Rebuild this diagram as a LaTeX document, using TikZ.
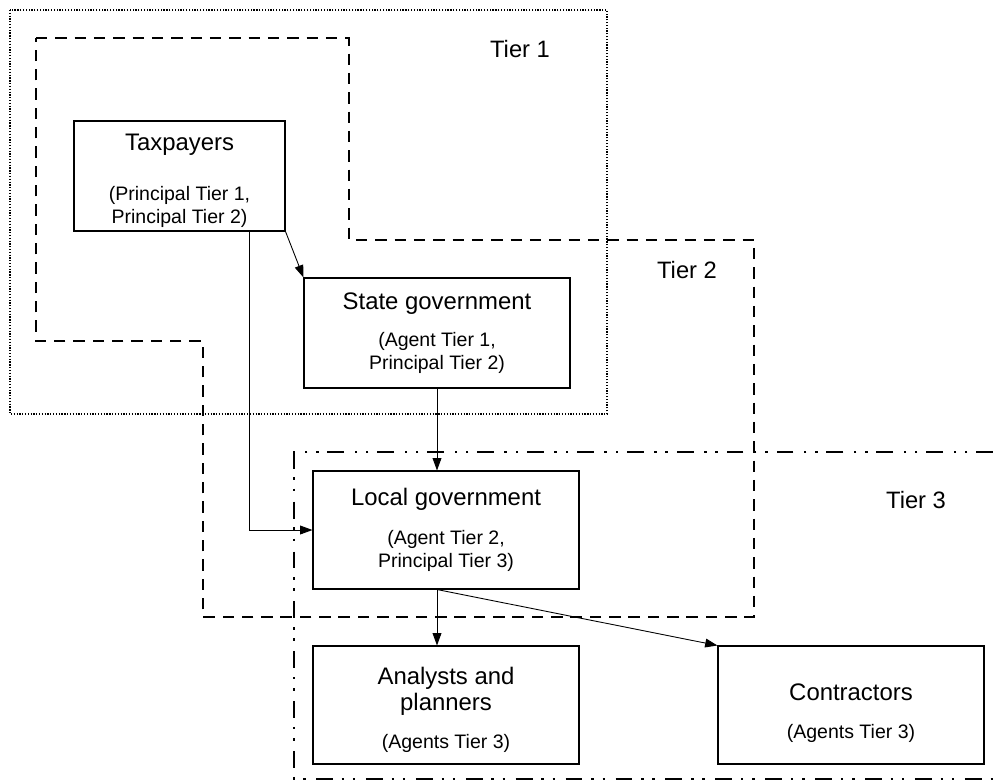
\documentclass[tikz,border=0pt]{standalone}
\usepackage{fontspec}
\setmainfont{Liberation Sans}
\usetikzlibrary{arrows.meta}
\newcommand{\titlefont}{\fontsize{13.6}{16}\selectfont}
\newcommand{\subfont}{\fontsize{11.1}{13}\selectfont}

\begin{document}
\begin{tikzpicture}[x=0.2mm,y=-0.2mm,
  party/.style={draw,line width=0.6pt,align=center,inner sep=0pt,font=\subfont},
  tierlabel/.style={font=\fontsize{13.5}{16}\selectfont},
  link/.style={-{Triangle[length=7pt,width=5pt]},line width=0.5pt}]
\useasboundingbox (0,0) rectangle (993,783);
\draw[line width=0.7pt,dash pattern=on 0.7pt off 0.9pt] (10,10) rectangle (607,414);
\draw[line width=1.1pt,dash pattern=on 6.5pt off 4.5pt] (36,38) -- (349,38) -- (349,240) -- (754,240) -- (754,617) -- (203,617) -- (203,341) -- (36,341) -- cycle;
\draw[line width=1.2pt,dash pattern=on 9.6pt off 5pt on 1.4pt off 5pt on 1.4pt off 6pt] (993,452) -- (294,452) -- (294,779) -- (993,779);
\node[tierlabel](tier1) at (520, 49) {Tier 1};
\node[tierlabel](tier2) at (687, 270) {Tier 2};
\node[tierlabel](tier3) at (916, 500) {Tier 3};
\node[party,minimum width=42.2mm,minimum height=22mm](tax) at (179.5, 176) {{\titlefont\rule{0pt}{14.5pt}Taxpayers}\\[15.3pt](Principal Tier 1,\\Principal Tier 2)};
\node[party,minimum width=53.2mm,minimum height=22mm](state) at (437, 333) {{\titlefont State government}\\[8pt](Agent Tier 1,\\Principal Tier 2)};
\node[party,minimum width=53.2mm,minimum height=23.6mm](local) at (446, 530) {{\titlefont Local government}\\[9pt](Agent Tier 2,\\Principal Tier 3)};
\node[party,minimum width=53.2mm,minimum height=23.6mm](analysts) at (446, 705) {{\titlefont\rule{0pt}{15.5pt}Analysts and}\\[1.7pt]{\titlefont planners}\\[9pt](Agents Tier 3)};
\node[party,minimum width=53.2mm,minimum height=23.6mm](contr) at (851, 705) {{\titlefont\rule{0pt}{19pt}Contractors}\\[8.5pt](Agents Tier 3)};
\draw[link] (tax.south east) -- (state.north west);
\draw[link] (tax.south east) ++(-36,0) |- (local.west);
\draw[link] (state.south) -- (state.south |- local.north);
\draw[link] (local.south -| state.south) -- (analysts.north -| state.south);
\draw[link] (local.south -| state.south) -- (contr.north west);
\end{tikzpicture}
\end{document}
